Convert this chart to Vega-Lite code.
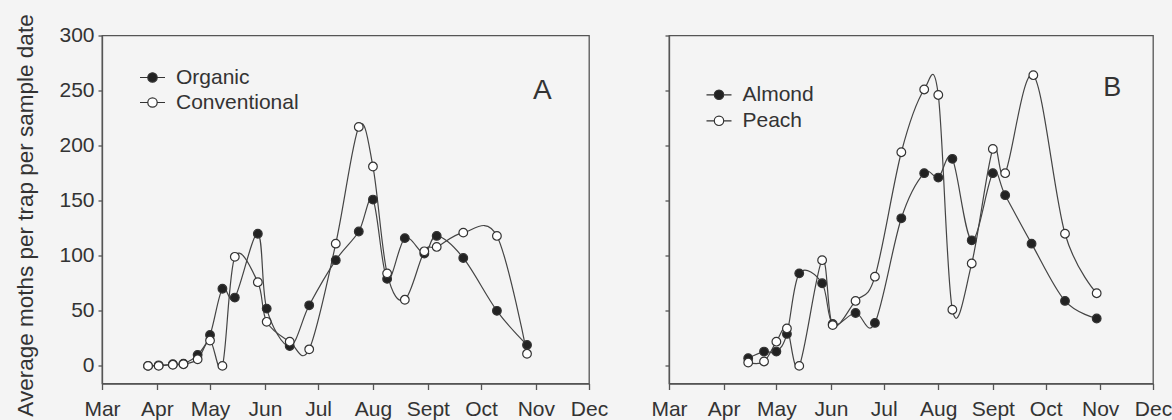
{
  "$schema": "https://vega.github.io/schema/vega-lite/v6.json",
  "background": "#f4f4f4",
  "padding": {"left": 13, "top": 9.5, "right": 0, "bottom": 0},
  "bounds": "flush",
  "spacing": 80,
  "config": {
    "font": "Liberation Sans",
    "view": {"stroke": "#555", "strokeWidth": 1.3},
    "axis": {
      "grid": false,
      "domainColor": "#555",
      "domainWidth": 1.3,
      "tickColor": "#555",
      "tickWidth": 1.3,
      "labelColor": "#333",
      "labelFont": "Liberation Sans",
      "titleColor": "#333",
      "titleFont": "Liberation Sans",
      "titleFontWeight": "normal"
    },
    "legend": {
      "labelFont": "Liberation Sans",
      "labelColor": "#333"
    }
  },
  "resolve": {"scale": {"fill": "independent"}, "legend": {"fill": "independent"}},
  "hconcat": [
    {
      "width": 487,
      "height": 348,
      "encoding": {
        "x": {
          "field": "date", "type": "temporal", "title": null,
          "scale": {"type": "utc", "domain": [{"year": 2000, "month": 3, "date": 1, "utc": true}, {"year": 2000, "month": 12, "date": 1, "utc": true}]},
          "axis": {
            "values": [
              {"year": 2000, "month": 3, "date": 1, "utc": true},
              {"year": 2000, "month": 4, "date": 1, "utc": true},
              {"year": 2000, "month": 5, "date": 1, "utc": true},
              {"year": 2000, "month": 6, "date": 1, "utc": true},
              {"year": 2000, "month": 7, "date": 1, "utc": true},
              {"year": 2000, "month": 8, "date": 1, "utc": true},
              {"year": 2000, "month": 9, "date": 1, "utc": true},
              {"year": 2000, "month": 10, "date": 1, "utc": true},
              {"year": 2000, "month": 11, "date": 1, "utc": true},
              {"year": 2000, "month": 12, "date": 1, "utc": true}
            ],
            "labelExpr": "utcFormat(datum.value, '%b') == 'Sep' ? 'Sept' : utcFormat(datum.value, '%b')",
            "tickSize": 6, "labelPadding": 9, "labelFontSize": 21,
            "labelFlush": false, "labelOverlap": false, "labelBound": false
          }
        },
        "y": {
          "field": "value", "type": "quantitative",
          "scale": {"domain": [-16, 300], "nice": false, "zero": false},
          "axis": {
            "values": [0, 50, 100, 150, 200, 250, 300],
            "tickSize": 4, "labelPadding": 4, "labelFontSize": 21,
            "title": "Average moths  per trap per sample date",
            "titleFontSize": 22.5, "titleAngle": 270, "titleX": -70, "titleY": 179.5,
            "titleAlign": "center", "titleBaseline": "alphabetic"
          }
        }
      },
      "layer": [
        {
          "data": {"name": "panelA"},
          "mark": {"type": "line", "interpolate": "cardinal", "stroke": "#444", "strokeWidth": 1.2},
          "encoding": {"detail": {"field": "series"}}
        },
        {
          "data": {"name": "panelA"},
          "mark": {"type": "point", "shape": "circle", "filled": true, "size": 75, "stroke": "#333", "strokeWidth": 1.2, "opacity": 1},
          "encoding": {
            "fill": {
              "field": "series", "type": "nominal",
              "scale": {"domain": ["Organic", "Conventional"], "range": ["#222222", "#ffffff"]},
              "legend": {
                "title": null, "orient": "none", "legendX": 37, "legendY": 28.5,
                "symbolType": "M-1,0L-0.376,0M0.376,0L1,0M0.376,0A0.376,0.376 0 1 1 -0.376,0A0.376,0.376 0 1 1 0.376,0Z",
                "symbolSize": 625, "symbolStrokeColor": "#333", "symbolStrokeWidth": 1.2, "symbolOpacity": 1,
                "labelFontSize": 21, "labelOffset": 10, "rowPadding": 1
              }
            }
          }
        },
        {
          "data": {"values": [{"date": "2000-11-10", "value": 242.5, "panel": "A"}]},
          "mark": {"type": "text", "align": "right", "baseline": "alphabetic", "fontSize": 28, "font": "Liberation Sans", "fill": "#333"},
          "encoding": {
            "text": {"field": "panel", "type": "nominal"}
          }
        }
      ]
    },
    {
      "width": 484,
      "height": 348,
      "encoding": {
        "x": {
          "field": "date", "type": "temporal", "title": null,
          "scale": {"type": "utc", "domain": [{"year": 2000, "month": 3, "date": 1, "utc": true}, {"year": 2000, "month": 12, "date": 1, "utc": true}]},
          "axis": {
            "values": [
              {"year": 2000, "month": 3, "date": 1, "utc": true},
              {"year": 2000, "month": 4, "date": 1, "utc": true},
              {"year": 2000, "month": 5, "date": 1, "utc": true},
              {"year": 2000, "month": 6, "date": 1, "utc": true},
              {"year": 2000, "month": 7, "date": 1, "utc": true},
              {"year": 2000, "month": 8, "date": 1, "utc": true},
              {"year": 2000, "month": 9, "date": 1, "utc": true},
              {"year": 2000, "month": 10, "date": 1, "utc": true},
              {"year": 2000, "month": 11, "date": 1, "utc": true},
              {"year": 2000, "month": 12, "date": 1, "utc": true}
            ],
            "labelExpr": "utcFormat(datum.value, '%b') == 'Sep' ? 'Sept' : utcFormat(datum.value, '%b')",
            "tickSize": 6, "labelPadding": 9, "labelFontSize": 21,
            "labelFlush": false, "labelOverlap": false, "labelBound": false
          }
        },
        "y": {
          "field": "value", "type": "quantitative",
          "scale": {"domain": [-16, 300], "nice": false, "zero": false},
          "axis": {
            "values": [0, 50, 100, 150, 200, 250, 300],
            "tickSize": 4, "labels": false, "title": null
          }
        }
      },
      "layer": [
        {
          "data": {"name": "panelB"},
          "mark": {"type": "line", "interpolate": "cardinal", "stroke": "#444", "strokeWidth": 1.2},
          "encoding": {"detail": {"field": "series"}}
        },
        {
          "data": {"name": "panelB"},
          "mark": {"type": "point", "shape": "circle", "filled": true, "size": 75, "stroke": "#333", "strokeWidth": 1.2, "opacity": 1},
          "encoding": {
            "fill": {
              "field": "series", "type": "nominal",
              "scale": {"domain": ["Almond", "Peach"], "range": ["#222222", "#ffffff"]},
              "legend": {
                "title": null, "orient": "none", "legendX": 36.5, "legendY": 45.8,
                "symbolType": "M-1,0L-0.376,0M0.376,0L1,0M0.376,0A0.376,0.376 0 1 1 -0.376,0A0.376,0.376 0 1 1 0.376,0Z",
                "symbolSize": 625, "symbolStrokeColor": "#333", "symbolStrokeWidth": 1.2, "symbolOpacity": 1,
                "labelFontSize": 21, "labelOffset": 10, "rowPadding": 2
              }
            }
          }
        },
        {
          "data": {"values": [{"date": "2000-11-13", "value": 245.5, "panel": "B"}]},
          "mark": {"type": "text", "align": "right", "baseline": "alphabetic", "fontSize": 27, "font": "Liberation Sans", "fill": "#333"},
          "encoding": {
            "text": {"field": "panel", "type": "nominal"}
          }
        }
      ]
    }
  ],
  "datasets": {
    "panelA": [
      {"date": "2000-03-27", "series": "Organic", "value": 0},
      {"date": "2000-04-02", "series": "Organic", "value": 0.5},
      {"date": "2000-04-10", "series": "Organic", "value": 1.5},
      {"date": "2000-04-16", "series": "Organic", "value": 2},
      {"date": "2000-04-24", "series": "Organic", "value": 10},
      {"date": "2000-05-01", "series": "Organic", "value": 28},
      {"date": "2000-05-08", "series": "Organic", "value": 70},
      {"date": "2000-05-15", "series": "Organic", "value": 62},
      {"date": "2000-05-28", "series": "Organic", "value": 120},
      {"date": "2000-06-02", "series": "Organic", "value": 52},
      {"date": "2000-06-15", "series": "Organic", "value": 18},
      {"date": "2000-06-26", "series": "Organic", "value": 55},
      {"date": "2000-07-11", "series": "Organic", "value": 96},
      {"date": "2000-07-24", "series": "Organic", "value": 122},
      {"date": "2000-08-01", "series": "Organic", "value": 151},
      {"date": "2000-08-09", "series": "Organic", "value": 79},
      {"date": "2000-08-19", "series": "Organic", "value": 116},
      {"date": "2000-08-30", "series": "Organic", "value": 102},
      {"date": "2000-09-06", "series": "Organic", "value": 118},
      {"date": "2000-09-21", "series": "Organic", "value": 98},
      {"date": "2000-10-10", "series": "Organic", "value": 50},
      {"date": "2000-10-27", "series": "Organic", "value": 19},
      {"date": "2000-03-27", "series": "Conventional", "value": 0},
      {"date": "2000-04-02", "series": "Conventional", "value": 0},
      {"date": "2000-04-10", "series": "Conventional", "value": 1},
      {"date": "2000-04-16", "series": "Conventional", "value": 1.5},
      {"date": "2000-04-24", "series": "Conventional", "value": 6},
      {"date": "2000-05-01", "series": "Conventional", "value": 23},
      {"date": "2000-05-08", "series": "Conventional", "value": 0},
      {"date": "2000-05-15", "series": "Conventional", "value": 99},
      {"date": "2000-05-28", "series": "Conventional", "value": 76},
      {"date": "2000-06-02", "series": "Conventional", "value": 40},
      {"date": "2000-06-15", "series": "Conventional", "value": 22},
      {"date": "2000-06-26", "series": "Conventional", "value": 15},
      {"date": "2000-07-11", "series": "Conventional", "value": 111},
      {"date": "2000-07-24", "series": "Conventional", "value": 217},
      {"date": "2000-08-01", "series": "Conventional", "value": 181},
      {"date": "2000-08-09", "series": "Conventional", "value": 84},
      {"date": "2000-08-19", "series": "Conventional", "value": 60},
      {"date": "2000-08-30", "series": "Conventional", "value": 104},
      {"date": "2000-09-06", "series": "Conventional", "value": 108},
      {"date": "2000-09-21", "series": "Conventional", "value": 121},
      {"date": "2000-10-10", "series": "Conventional", "value": 118},
      {"date": "2000-10-27", "series": "Conventional", "value": 11}
    ],
    "panelB": [
      {"date": "2000-04-15", "series": "Almond", "value": 7},
      {"date": "2000-04-24", "series": "Almond", "value": 13},
      {"date": "2000-05-01", "series": "Almond", "value": 13},
      {"date": "2000-05-07", "series": "Almond", "value": 29},
      {"date": "2000-05-14", "series": "Almond", "value": 84},
      {"date": "2000-05-27", "series": "Almond", "value": 75},
      {"date": "2000-06-02", "series": "Almond", "value": 38},
      {"date": "2000-06-15", "series": "Almond", "value": 48},
      {"date": "2000-06-26", "series": "Almond", "value": 39},
      {"date": "2000-07-11", "series": "Almond", "value": 134},
      {"date": "2000-07-24", "series": "Almond", "value": 175},
      {"date": "2000-08-01", "series": "Almond", "value": 171},
      {"date": "2000-08-09", "series": "Almond", "value": 188},
      {"date": "2000-08-20", "series": "Almond", "value": 114},
      {"date": "2000-09-01", "series": "Almond", "value": 175},
      {"date": "2000-09-08", "series": "Almond", "value": 155},
      {"date": "2000-09-23", "series": "Almond", "value": 111},
      {"date": "2000-10-12", "series": "Almond", "value": 59},
      {"date": "2000-10-30", "series": "Almond", "value": 43},
      {"date": "2000-04-15", "series": "Peach", "value": 3},
      {"date": "2000-04-24", "series": "Peach", "value": 4},
      {"date": "2000-05-01", "series": "Peach", "value": 22},
      {"date": "2000-05-07", "series": "Peach", "value": 34},
      {"date": "2000-05-14", "series": "Peach", "value": 0},
      {"date": "2000-05-27", "series": "Peach", "value": 96},
      {"date": "2000-06-02", "series": "Peach", "value": 37},
      {"date": "2000-06-15", "series": "Peach", "value": 59},
      {"date": "2000-06-26", "series": "Peach", "value": 81},
      {"date": "2000-07-11", "series": "Peach", "value": 194},
      {"date": "2000-07-24", "series": "Peach", "value": 251},
      {"date": "2000-08-01", "series": "Peach", "value": 246},
      {"date": "2000-08-09", "series": "Peach", "value": 51},
      {"date": "2000-08-20", "series": "Peach", "value": 93},
      {"date": "2000-09-01", "series": "Peach", "value": 197},
      {"date": "2000-09-08", "series": "Peach", "value": 175},
      {"date": "2000-09-24", "series": "Peach", "value": 264},
      {"date": "2000-10-12", "series": "Peach", "value": 120},
      {"date": "2000-10-30", "series": "Peach", "value": 66}
    ]
  }
}
